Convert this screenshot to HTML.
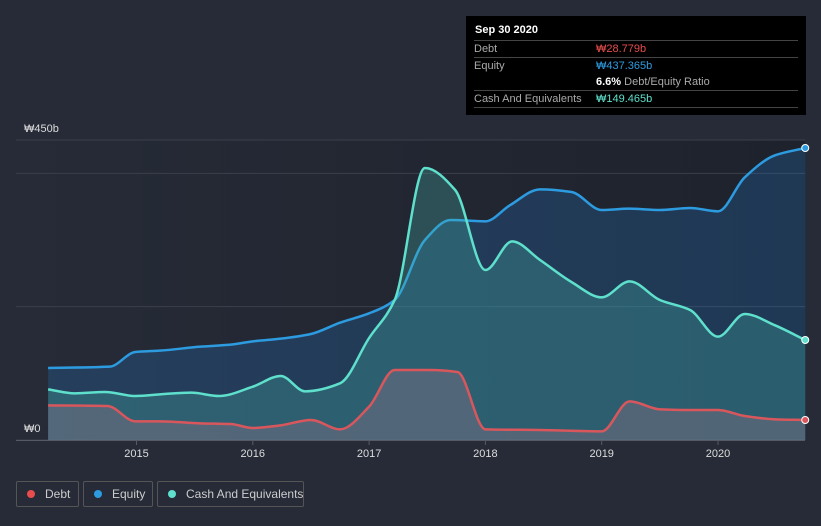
<!DOCTYPE html>
<html><head><meta charset="utf-8"><style>
body{margin:0;background:#262b37;width:821px;height:526px;overflow:hidden;font-family:"Liberation Sans","Noto Sans CJK KR",sans-serif}
svg{position:absolute;left:0;top:0}
.tip{position:absolute;left:466px;top:16px;width:340px;height:99px;background:#000;color:#aaa;font-size:11px}
.tip .row{position:absolute;left:8px;right:8px;border-top:1px solid #444;height:17px;line-height:17px}
.leg{position:absolute;top:481px;height:26px;border:1px solid #555;border-radius:2px;color:#ccc;font-size:12px;line-height:24px;box-sizing:border-box;white-space:nowrap;overflow:hidden}
.leg i{display:inline-block;width:8px;height:8px;border-radius:50%;margin:0 10px 0 10px;vertical-align:0}
</style></head><body>
<svg width="821" height="526" id="chart"></svg>
<div class="tip">
<div style="position:absolute;left:9px;top:8px;color:#fff;font-weight:bold;font-size:11px">Sep 30 2020</div>
<div class="row" style="top:24px"><span>Debt</span><span style="position:absolute;left:122px;color:#e84c4c">₩28.779b</span></div>
<div class="row" style="top:41px"><span>Equity</span><span style="position:absolute;left:122px;color:#2d9be0">₩437.365b</span></div>
<div style="position:absolute;left:130px;top:58px;line-height:17px"><b style="color:#fff">6.6%</b> Debt/Equity Ratio</div>
<div class="row" style="top:74px"><span>Cash And Equivalents</span><span style="position:absolute;left:122px;color:#5ee0cc">₩149.465b</span></div>
<div class="row" style="top:91px;height:0"></div>
</div>
<div class="leg" style="left:16px;width:63px"><i style="background:#e84c4c"></i>Debt</div>
<div class="leg" style="left:83px;width:70px"><i style="background:#2d9be0"></i>Equity</div>
<div class="leg" style="left:157px;width:147px"><i style="background:#5ee0cc"></i>Cash And Equivalents</div>
<script>
const equityT=[2014.24,2014.77,2014.99,2015.2,2015.55,2015.81,2016,2016.24,2016.5,2016.75,2017,2017.22,2017.48,2017.7,2018,2018.21,2018.47,2018.74,2019,2019.24,2019.5,2019.76,2020,2020.23,2020.49,2020.75];
const equityV=[108,110,132,134,140,143,148,152,159,176,190,210,300,330,328,352,376,372,345,347,345,348,343,394,427,438];
const cashT=[2014.24,2014.47,2014.73,2014.99,2015.24,2015.47,2015.71,2016,2016.24,2016.45,2016.75,2017,2017.22,2017.48,2017.74,2018,2018.23,2018.47,2018.74,2019,2019.24,2019.5,2019.76,2020,2020.23,2020.49,2020.75];
const cashV=[76,70,72,66,69,71,66,80,96,73,85,153,210,408,375,255,298,270,237,214,238,210,195,155,189,172,150];
const debtT=[2014.24,2014.75,2014.99,2015.2,2015.55,2015.81,2016,2016.24,2016.5,2016.75,2017,2017.22,2017.52,2017.76,2018,2018.47,2019,2019.24,2019.5,2019.76,2020,2020.23,2020.49,2020.75];
const debtV=[52,51,28,28,25,24,18,22,30,16,50,105,105,102,16,15,13,58,46,45,45,36,31,30];
const yTicks=[0,200,400,450];
const xTicks=[2015,2016,2017,2018,2019,2020];
const NS='http://www.w3.org/2000/svg';
const svg=document.getElementById('chart');
const X=t=>136.5+(t-2015)*116.3, Y=v=>440-v*300/450;
function mk(tag,a){const e=document.createElementNS(NS,tag);for(const k in a)e.setAttribute(k,a[k]);svg.appendChild(e);return e;}
const defs=mk('defs',{});
defs.innerHTML='<linearGradient id="bg" x1="0" y1="0" x2="1" y2="0"><stop offset="0" stop-color="#262b37"/><stop offset="1" stop-color="#181c25"/></linearGradient>';
mk('rect',{x:16,y:140,width:789,height:300,fill:'url(#bg)',opacity:0.6});
yTicks.forEach(v=>{const l=mk('line',{x1:16,x2:805,y1:Y(v),y2:Y(v),stroke:'#3a3f4b','stroke-width':1});

});
mk('line',{x1:16,x2:805,y1:440.5,y2:440.5,stroke:'#555a66'});
const lbl=[[0,'₩0',428],[450,'₩450b',128]];
lbl.forEach(a=>{const t=mk('text',{x:24,y:a[2]+4,fill:'#ddd','font-size':11});t.textContent=a[1];

});
xTicks.forEach(yr=>{mk('line',{x1:X(yr),x2:X(yr),y1:440,y2:445,stroke:'#555a66'});
const t=mk('text',{x:X(yr),y:457,fill:'#ddd','font-size':11,'text-anchor':'middle'});t.textContent=yr;

});
function path(T,V){const p=T.map((t,i)=>[X(t),Y(V[i])]);const n=p.length;
const s=[],m=[];for(let i=0;i<n-1;i++)s.push((p[i+1][1]-p[i][1])/(p[i+1][0]-p[i][0]));
for(let i=0;i<n;i++){if(i==0)m.push(s[0]);else if(i==n-1)m.push(s[n-2]);else if(s[i-1]*s[i]<=0)m.push(0);else{const h0=p[i][0]-p[i-1][0],h1=p[i+1][0]-p[i][0];m.push(3*(h0+h1)/((2*h1+h0)/s[i-1]+(h1+2*h0)/s[i]));}}
let d='M'+p[0][0]+','+p[0][1];
for(let i=0;i<n-1;i++){const h=(p[i+1][0]-p[i][0])/3;
d+=` C${p[i][0]+h},${p[i][1]+m[i]*h} ${p[i+1][0]-h},${p[i+1][1]-m[i+1]*h} ${p[i+1][0]},${p[i+1][1]}`;}
return d;}
function series(T,V,col,fill,name){const d=path(T,V);
const a=mk('path',{d:d+`L${X(T[T.length-1])},440L${X(T[0])},440Z`,fill:fill});


const l=mk('path',{d:d,fill:'none',stroke:col,'stroke-width':2.5});


const c=mk('circle',{cx:X(T[T.length-1]),cy:Y(V[V.length-1]),r:3.5,fill:col,stroke:'#fff','stroke-width':1});

}
series(equityT,equityV,'#2d9be0','rgba(35,110,180,0.3)','equity');
series(cashT,cashV,'#5ee0cc','rgba(70,180,170,0.3)','cash');
series(debtT,debtV,'#d9575c','rgba(170,120,140,0.3)','debt');
</script>
</body></html>
